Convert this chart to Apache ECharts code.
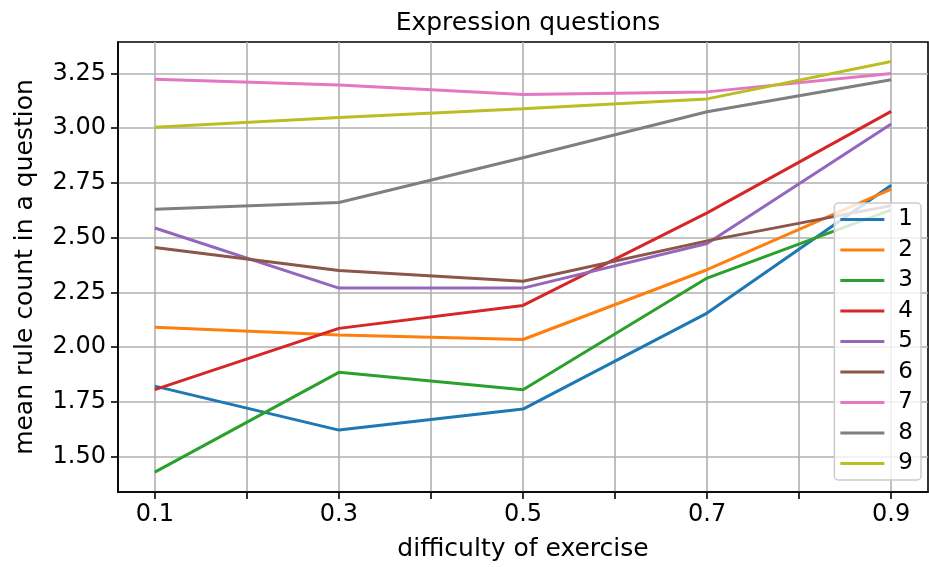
<!DOCTYPE html>
<html>
<head>
<meta charset="utf-8">
<script src="https://cdn.jsdelivr.net/npm/echarts@6/dist/echarts.min.js"></script>
<style>
html,body{margin:0;padding:0;background:#fff;}
#chart{width:929px;height:567px;}
</style>
</head>
<body>
<div id="chart"></div>
<script>
const xValues = [0.1, 0.3, 0.5, 0.7, 0.9];
const xTicks = [0.1, 0.2, 0.3, 0.4, 0.5, 0.6, 0.7, 0.8, 0.9];
const xTickLabels = [0.1, 0.3, 0.5, 0.7, 0.9];
const yTicks = [1.5, 1.75, 2.0, 2.25, 2.5, 2.75, 3.0, 3.25];
const seriesNames = ['1', '2', '3', '4', '5', '6', '7', '8', '9'];
const s1 = [1.821, 1.620, 1.716, 2.155, 2.739];
const s2 = [2.090, 2.055, 2.034, 2.353, 2.721];
const s3 = [1.428, 1.884, 1.804, 2.315, 2.627];
const s4 = [1.805, 2.085, 2.190, 2.613, 3.077];
const s5 = [2.544, 2.269, 2.269, 2.473, 3.019];
const s6 = [2.455, 2.350, 2.300, 2.485, 2.646];
const s7 = [3.224, 3.198, 3.154, 3.166, 3.250];
const s8 = [2.630, 2.660, 2.865, 3.075, 3.221];
const s9 = [3.004, 3.049, 3.089, 3.134, 3.305];
const allSeries = [s1, s2, s3, s4, s5, s6, s7, s8, s9];
const colors = ['#1f77b4', '#ff7f0e', '#2ca02c', '#d62728', '#9467bd', '#8c564b', '#e377c2', '#7f7f7f', '#bcbd22'];

const FONT = 'DejaVu Sans';
const chart = echarts.init(document.getElementById('chart'), null, {renderer: 'canvas'});
chart.setOption({
  animation: false,
  color: colors,
  textStyle: {fontFamily: FONT, color: '#000'},
  title: {
    text: 'Expression questions',
    left: 523, top: 6, textAlign: 'center',
    textStyle: {fontFamily: FONT, fontSize: 25, fontWeight: 'normal', color: '#000'}
  },
  grid: {
    left: 118, right: 1, top: 42, bottom: 74,
    show: true, borderColor: '#000', borderWidth: 1.6, backgroundColor: 'transparent'
  },
  legend: {
    orient: 'vertical',
    right: 8, top: 203,
    data: seriesNames,
    icon: 'rect',
    itemWidth: 44, itemHeight: 3,
    itemGap: 7.5,
    padding: [5, 8, 5, 6],
    backgroundColor: 'rgba(255,255,255,0.8)',
    borderColor: '#cccccc', borderWidth: 1.5, borderRadius: 4,
    textStyle: {fontFamily: FONT, fontSize: 23, color: '#000', lineHeight: 23, padding: [0, 0, 0, 9]}
  },
  xAxis: {
    type: 'value', min: 0.06, max: 0.94,
    name: 'difficulty of exercise', nameLocation: 'middle', nameGap: 45,
    nameTextStyle: {fontFamily: FONT, fontSize: 25, color: '#000'},
    axisLine: {show: true, onZero: false, lineStyle: {color: '#000', width: 1.6}},
    axisTick: {show: true, inside: false, length: 7, customValues: xTicks, lineStyle: {color: '#000', width: 1.6}},
    axisLabel: {customValues: xTickLabels, margin: 11, fontFamily: FONT, fontSize: 24, color: '#000',
      formatter: v => v.toFixed(1)},
    splitLine: {show: true, lineStyle: {color: '#b0b0b0', width: 1.6}}
  },
  yAxis: {
    type: 'value', min: 1.337, max: 3.394,
    name: 'mean rule count in a question', nameLocation: 'middle', nameGap: 80, nameRotate: 90,
    nameTextStyle: {fontFamily: FONT, fontSize: 25, color: '#000'},
    axisLine: {show: true, onZero: false, lineStyle: {color: '#000', width: 1.6}},
    axisTick: {show: true, inside: false, length: 7, customValues: yTicks, lineStyle: {color: '#000', width: 1.6}},
    axisLabel: {customValues: yTicks, margin: 12, fontFamily: FONT, fontSize: 24, color: '#000',
      formatter: v => v.toFixed(2)},
    splitLine: {show: true, lineStyle: {color: '#b0b0b0', width: 1.6}}
  },
  series: allSeries.map((vals, i) => ({
    name: seriesNames[i],
    type: 'line',
    showSymbol: false,
    symbol: 'none',
    lineStyle: {width: 3, color: colors[i]},
    itemStyle: {color: colors[i]},
    data: xValues.map((x, j) => [x, vals[j]])
  }))
});
</script>
</body>
</html>
